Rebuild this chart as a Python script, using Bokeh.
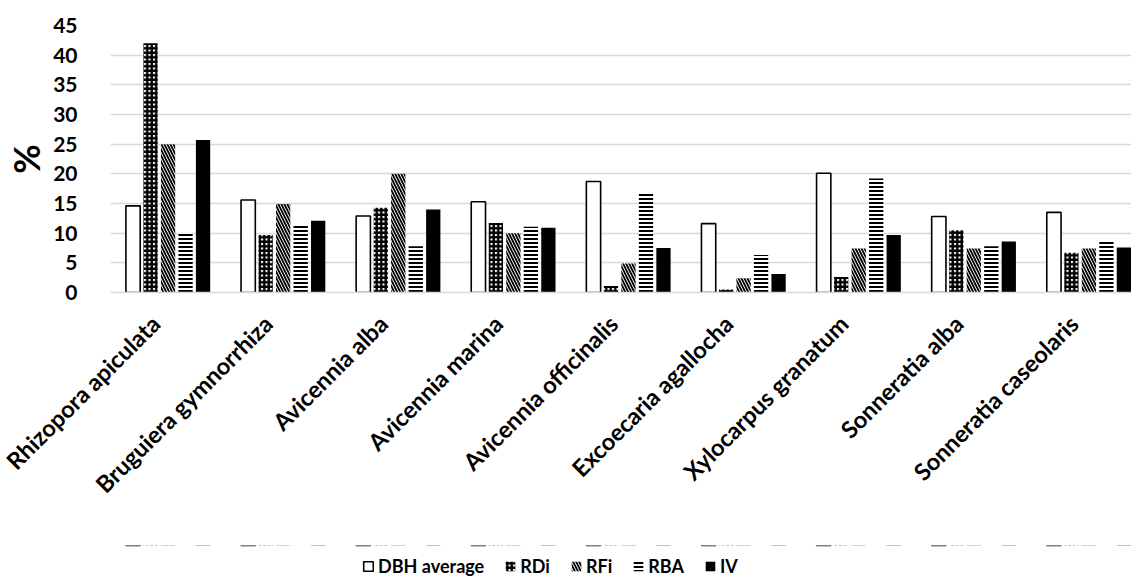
import math
from bokeh.plotting import figure
from bokeh.layouts import column
from bokeh.models import (ColumnDataSource, Range1d, FixedTicker, Legend, LegendItem,
                          LinearAxis)
from bokeh.transform import dodge
from bokeh.embed import file_html
from bokeh.resources import INLINE

species = ["Rhizopora apiculata", "Bruguiera gymnorrhiza", "Avicennia alba",
           "Avicennia marina", "Avicennia officinalis", "Excoecaria agallocha",
           "Xylocarpus granatum", "Sonneratia alba", "Sonneratia caseolaris"]
dbh_average = [14.6, 15.6, 12.9, 15.3, 18.7, 11.6, 20.1, 12.8, 13.5]
rdi = [42.0, 9.7, 14.3, 11.7, 1.1, 0.5, 2.6, 10.5, 6.7]
rfi = [25.0, 14.9, 20.0, 10.0, 4.9, 2.4, 7.4, 7.4, 7.4]
rba = [10.0, 11.4, 7.8, 11.1, 16.7, 6.3, 19.2, 7.8, 8.5]
iv = [25.7, 12.1, 14.0, 10.9, 7.5, 3.1, 9.7, 8.6, 7.6]
series_names = ["DBH average", "RDi", "RFi", "RBA", "IV"]
y_ticks = [0, 5, 10, 15, 20, 25, 30, 35, 40, 45]

xs = list(range(len(species)))
src = ColumnDataSource(dict(x=xs, dbh=dbh_average, rdi=rdi, rfi=rfi, rba=rba, iv=iv))

FONT = "Lato"
X0, X1 = -0.5, 8.37
step = 0.152
w = 0.124

STYLES = [
    dict(fill_color="white", line_color="black", line_width=1.6),
    dict(fill_color="white", line_color=None, hatch_pattern="cross",
         hatch_color="black", hatch_scale=4.5, hatch_weight=2.4),
    dict(fill_color="white", line_color=None, hatch_pattern="left_diagonal_line",
         hatch_color="black", hatch_scale=6, hatch_weight=1.8),
    dict(fill_color="white", line_color=None, hatch_pattern="horizontal_line",
         hatch_color="black", hatch_scale=4, hatch_weight=2),
    dict(fill_color="black", line_color=None),
]
COLS = ["dbh", "rdi", "rfi", "rba", "iv"]


def add_bars(fig):
    rs = []
    for k, (col, st) in enumerate(zip(COLS, STYLES)):
        rs.append(fig.vbar(x=dodge("x", (k - 2) * step, range=fig.x_range), top=col,
                           width=w, source=src, **st))
    return rs


# ---- main chart ----
p = figure(width=1131, height=545, output_backend="svg", toolbar_location=None,
           x_range=Range1d(X0, X1), y_range=Range1d(0, 45), x_axis_location=None,
           min_border_left=110, min_border_right=0, min_border_top=25,
           min_border_bottom=253)
p.outline_line_color = None
shift = 0.13
p.extra_x_ranges = {"lbl": Range1d(X0 + shift, X1 + shift)}
add_bars(p)

p.ygrid.grid_line_color = "#d9d9d9"
p.ygrid.grid_line_width = 1.6
p.yaxis.ticker = FixedTicker(ticks=y_ticks)
p.yaxis.axis_line_color = None
p.yaxis.major_tick_line_color = None
p.yaxis.minor_tick_line_color = None
p.yaxis.major_label_text_font = FONT
p.yaxis.major_label_text_font_style = "bold"
p.yaxis.major_label_text_font_size = "21px"
p.yaxis.major_label_text_color = "black"
p.yaxis.major_label_standoff = 27
p.yaxis.axis_label = "%"
p.yaxis.axis_label_text_font = FONT
p.yaxis.axis_label_text_font_style = "bold"
p.yaxis.axis_label_text_font_size = "36px"
p.yaxis.axis_label_text_color = "black"
p.yaxis.axis_label_standoff = 2

xa = LinearAxis(x_range_name="lbl", ticker=FixedTicker(ticks=xs),
                major_label_overrides={i: s for i, s in zip(xs, species)},
                major_label_orientation=math.pi / 4,
                axis_line_color="#d9d9d9", axis_line_width=1.6,
                major_tick_line_color=None, minor_tick_line_color=None,
                major_label_text_font=FONT, major_label_text_font_style="bold",
                major_label_text_font_size="23.5px", major_label_text_color="black",
                major_label_standoff=21)
p.add_layout(xa, "below")
p.xgrid.visible = False

# ---- legend strip (bars lie entirely above its y range, only the legend shows) ----
q = figure(width=1131, height=32, output_backend="svg", toolbar_location=None,
           x_range=Range1d(X0, X1), y_range=Range1d(-20, -19),
           x_axis_location=None, y_axis_location=None, min_border=0)
q.outline_line_color = None
q.grid.visible = False
qr = add_bars(q)
legend = Legend(items=[LegendItem(label=n, renderers=[r]) for n, r in zip(series_names, qr)],
                orientation="horizontal", location=(252, 0),
                label_text_font=FONT, label_text_font_style="bold",
                label_text_font_size="18px", label_text_color="black",
                glyph_width=12, glyph_height=12, spacing=20, padding=0, margin=0,
                border_line_color=None, background_fill_alpha=0,
                label_standoff=4, label_height=18)
q.add_layout(legend, "center")

layout = column(p, q, spacing=0)
open("out.html", "w").write(file_html(layout, INLINE))
